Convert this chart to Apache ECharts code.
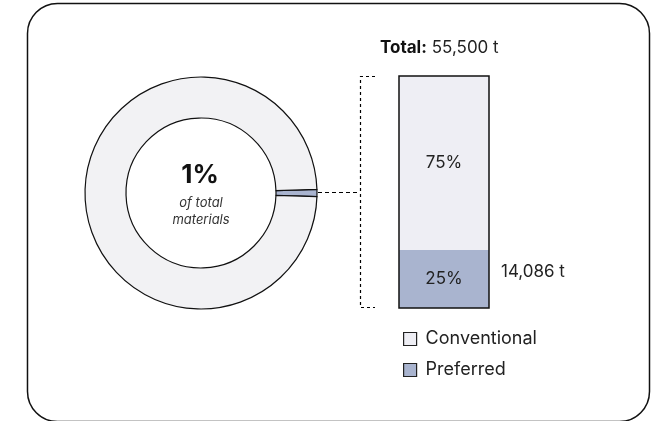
<!DOCTYPE html>
<html><head><meta charset="utf-8">
<script src="https://cdn.jsdelivr.net/npm/echarts@6/dist/echarts.min.js"></script>
<style>html,body{margin:0;padding:0;background:#fff}#c{width:657px;height:421px}</style>
</head><body><div id="c"></div>
<script>
const pieNames = ['Preferred share', 'Other materials'];
const pieValues = [1, 99];
const barCategories = ['Material'];
const seriesNames = ['Preferred', 'Conventional'];
const preferredValues = [25];
const conventionalValues = [75];
const totalLabel = '55,500 t';
const preferredTonnes = '14,086 t';
const centerPct = '1%';

const chart = echarts.init(document.getElementById('c'), null, {renderer: 'canvas'});
const font = 'Inter, "Noto Sans", sans-serif';
const option = {
  animation: false,
  textStyle: {fontFamily: font},
  grid: {left: 399, top: 76, width: 90, height: 232, show: true, borderColor: '#111', borderWidth: 1.5, backgroundColor: 'transparent', z: 5},
  xAxis: {type: 'category', data: barCategories, show: false},
  yAxis: {type: 'value', min: 0, max: 100, show: false},
  legend: {
    orient: 'vertical', left: 398, top: 325, itemGap: 13,
    itemWidth: 13, itemHeight: 13, icon: 'rect',
    data: ['Conventional', 'Preferred'],
    itemStyle: {borderColor: '#222', borderWidth: 1.2},
    textStyle: {fontSize: 18, color: '#222', fontFamily: font, padding: [0,0,0,4]}
  },
  series: [
    {
      type: 'pie', center: [201, 193], radius: [75, 116], startAngle: 1.8,
      clockwise: true, label: {show: false}, labelLine: {show: false}, silent: true,
      itemStyle: {borderColor: '#111', borderWidth: 1.2},
      data: [
        {name: pieNames[0], value: pieValues[0], itemStyle: {color: '#a9b4cf'}},
        {name: pieNames[1], value: pieValues[1], itemStyle: {color: '#f2f2f4'}}
      ]
    },
    {
      name: seriesNames[0], type: 'bar', stack: 's', barWidth: '100%', data: preferredValues,
      itemStyle: {color: '#a9b4cf', borderWidth: 0},
      label: {show: true, position: 'inside', formatter: '{c}%', fontSize: 17, color: '#222', fontFamily: font}
    },
    {
      name: seriesNames[1], type: 'bar', stack: 's', barWidth: '100%', data: conventionalValues,
      itemStyle: {color: '#eeeef4', borderWidth: 0},
      label: {show: true, position: 'inside', formatter: '{c}%', fontSize: 17, color: '#222', fontFamily: font}
    }
  ],
  graphic: [
    {type: 'rect', shape: {x: 27.5, y: 3.5, width: 622, height: 418, r: 30}, style: {fill: 'none', stroke: '#111', lineWidth: 1.5}, z: -1},
    {type: 'text', x: 200, y: 175, style: {text: centerPct, fontSize: 26, fontWeight: 'bold', fill: '#111', align: 'center', verticalAlign: 'middle', fontFamily: font}},
    {type: 'text', x: 201, y: 203, style: {text: 'of total', fontSize: 13, fontStyle: 'italic', fill: '#333', align: 'center', verticalAlign: 'middle', fontFamily: font}},
    {type: 'text', x: 201, y: 220, style: {text: 'materials', fontSize: 13, fontStyle: 'italic', fill: '#333', align: 'center', verticalAlign: 'middle', fontFamily: font}},
    {type: 'text', x: 380, y: 48, style: {text: '{b|Total:} ' + totalLabel, rich: {b: {fontWeight: 'bold', fontSize: 17, fill: '#111', fontFamily: font}}, fontSize: 17, fill: '#222', verticalAlign: 'middle', fontFamily: font}},
    {type: 'text', x: 501, y: 272, style: {text: preferredTonnes, fontSize: 17, fill: '#222', verticalAlign: 'middle', fontFamily: font}},
    {type: 'polyline', shape: {points: [[375, 76.5], [360.5, 76.5], [360.5, 307.5], [375, 307.5]]}, style: {fill: 'none', stroke: '#000', lineWidth: 1.2, lineDash: [3, 3]}},
    {type: 'line', shape: {x1: 318, y1: 192.5, x2: 360, y2: 192.5}, style: {stroke: '#000', lineWidth: 1.2, lineDash: [4, 3]}}
  ]
};
chart.setOption(option);
</script></body></html>
